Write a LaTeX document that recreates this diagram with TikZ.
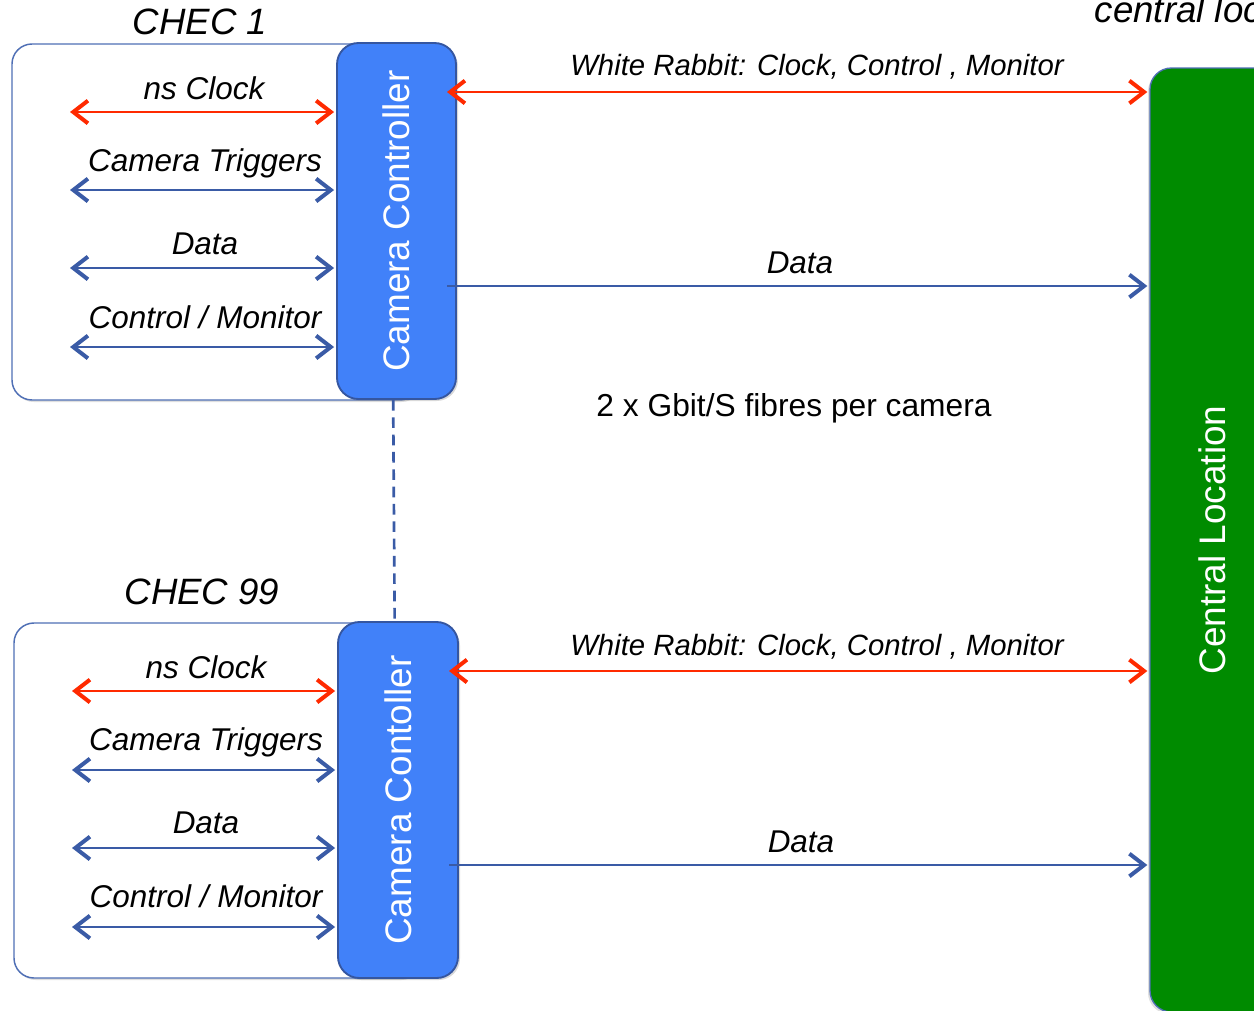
\documentclass[tikz,border=0pt]{standalone}
\usepackage{fontspec}
\setmainfont{Liberation Sans}
\usetikzlibrary{arrows.meta,fit,shadows}
\definecolor{wrred}{HTML}{FF2A00}
\definecolor{linkblue}{HTML}{3A5BA6}
\definecolor{ccblue}{HTML}{4181F9}
\definecolor{ccedge}{HTML}{3556A0}
\definecolor{boxedge}{HTML}{4F6FB5}
\definecolor{clgreen}{HTML}{008B00}
\tikzset{
  chec/.style={draw=boxedge, line width=1.1pt, rounded corners=15pt, fill=white,
    inner sep=0pt, drop shadow={shadow xshift=1.2pt, shadow yshift=-1.5pt, opacity=0.25}},
  ctrl/.style={draw=ccedge, line width=1.4pt, fill=ccblue, rounded corners=16pt,
    inner sep=0pt, drop shadow={shadow xshift=1.5pt, shadow yshift=-1.5pt, opacity=0.3}},
  central/.style={draw=boxedge, line width=1pt, fill=clgreen, rounded corners=16pt,
    inner sep=0pt, drop shadow={shadow xshift=-1.5pt, shadow yshift=-1.5pt, opacity=0.25}},
  vlabel/.style={rotate=90, text=white, font=\fontsize{27.7pt}{32pt}\selectfont},
  title/.style={font=\fontsize{27.5pt}{32pt}\selectfont\itshape},
  inlabel/.style={font=\fontsize{23.6pt}{28pt}\selectfont\itshape},
  wrlabel/.style={font=\fontsize{22pt}{26pt}\selectfont\itshape},
  note/.style={font=\fontsize{23.8pt}{28pt}\selectfont},
  barb/.tip={Straight Barb[length=11pt,width=17pt,line width=3pt]},
  redlink/.style={draw=wrred, line width=2.1pt, barb-barb},
  bluelink/.style={draw=linkblue, line width=2.2pt, barb-barb},
  datalink/.style={draw=linkblue, line width=1.7pt, -barb},
}
\begin{document}
\begin{tikzpicture}[x=0.75pt,y=-0.75pt]
\useasboundingbox (0,0) rectangle (1254,1011);
\clip (0,0) rectangle (1254,1011);

% central location column
\node[central, fit={(1150,68) (1275,1012)}] (cl) {};
\node[vlabel] at (cl.center) {Central Location};
\node[title, anchor=west] (cltitle) at (1090,9) {central location};

% camera 1
\node[title] (t1) at (200,22) {CHEC 1};
\node[chec, fit={(12,44) (420,400)}] (box1) {};
\node[ctrl, fit={(337,43) (456,399)}] (cc1) {};
\node[vlabel] at (cc1.center) {Camera Controller};

% camera 99
\node[title] (t99) at (202,592) {CHEC 99};
\node[chec, fit={(14,623) (420,978)}] (box2) {};
\node[ctrl, fit={(338,622) (458,978)}] (cc2) {};
\node[vlabel] at (cc2.center) {Camera Contoller};

% dashed link between the two controllers
\draw[linkblue, line width=2pt, dash pattern=on 8pt off 5pt]
  ([xshift=-2.5pt]cc1.south) -- ([xshift=-2.5pt]cc2.north);

% internal links, camera 1
\coordinate (a1) at (70,112);
\coordinate (a2) at (70,190);
\coordinate (a3) at (70,268);
\coordinate (a4) at (70,347);
\draw[redlink] (a1) -- ([xshift=-1.5pt]cc1.west |- a1);
\draw[bluelink] (a2) -- ([xshift=-1.5pt]cc1.west |- a2);
\draw[bluelink] (a3) -- ([xshift=-1.5pt]cc1.west |- a3);
\draw[bluelink] (a4) -- ([xshift=-1.5pt]cc1.west |- a4);
\node[inlabel] at (204,88) {ns Clock};
\node[inlabel] at (205,163) {Camera Triggers};
\node[inlabel] at (205,244) {Data};
\node[inlabel] at (205,317) {Control / Monitor};

% internal links, camera 99
\coordinate (b1) at (72,691);
\coordinate (b2) at (72,770);
\coordinate (b3) at (72,848);
\coordinate (b4) at (72,927);
\draw[redlink] (b1) -- ([xshift=-1.5pt]cc2.west |- b1);
\draw[bluelink] (b2) -- ([xshift=-1.5pt]cc2.west |- b2);
\draw[bluelink] (b3) -- ([xshift=-1.5pt]cc2.west |- b3);
\draw[bluelink] (b4) -- ([xshift=-1.5pt]cc2.west |- b4);
\node[inlabel] at (206,667) {ns Clock};
\node[inlabel] at (206,742) {Camera Triggers};
\node[inlabel] at (206,823) {Data};
\node[inlabel] at (206,896) {Control / Monitor};

% fibres to the central location
\coordinate (w1) at (447,92);
\coordinate (d1) at (447,286);
\coordinate (w2) at (449,671);
\coordinate (d2) at (449,865);
\draw[redlink] (w1) -- ([xshift=-1.5pt]cl.west |- w1);
\draw[datalink] (d1) -- ([xshift=-1.5pt]cl.west |- d1);
\draw[redlink] (w2) -- ([xshift=-1.5pt]cl.west |- w2);
\draw[datalink] (d2) -- ([xshift=-1.5pt]cl.west |- d2);
\node[wrlabel] at (817,67) {White Rabbit: Clock, Control , Monitor};
\node[inlabel] at (800,263) {Data};
\node[wrlabel] at (817,647) {White Rabbit: Clock, Control , Monitor};
\node[inlabel] at (801,842) {Data};

\node[note] at (794,408) {2 x Gbit/S fibres per camera};
\end{tikzpicture}
\end{document}
